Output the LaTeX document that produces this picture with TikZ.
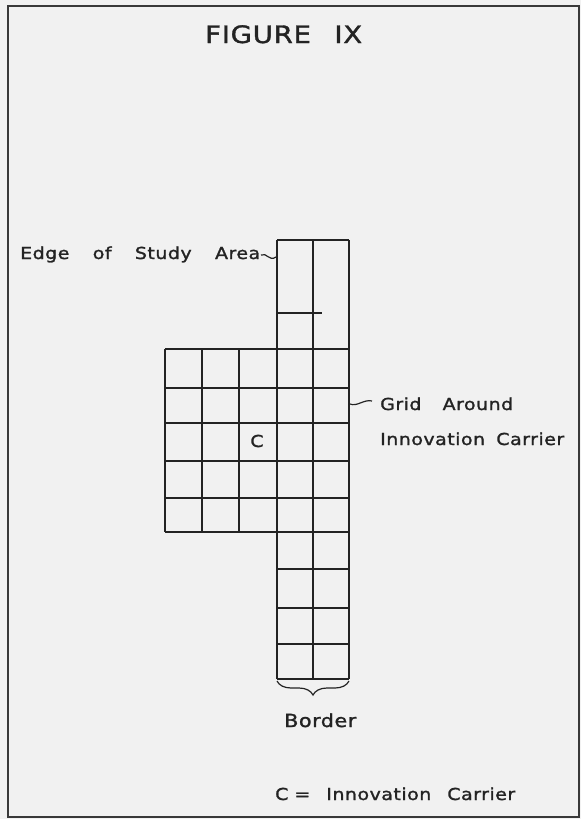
\documentclass[tikz,border=0pt]{standalone}
\usepackage{fontspec}
\usepackage{tikz}
\usetikzlibrary{decorations.pathreplacing}
\newfontfamily\lettering[LetterSpace=3,FakeStretch=1.15,FakeBold=1.5]{DejaVu Sans}
\definecolor{paper}{RGB}{241,241,241}
\definecolor{ink}{RGB}{35,35,35}
\newcommand{\spread}[2]{\makebox[#1][s]{#2}}

\begin{document}
\begin{tikzpicture}[x=1pt,y=-1pt,
  lbl/.style={inner sep=0pt,text=ink,font=\lettering\fontsize{16.5}{18}\selectfont},
  gridline/.style={draw=ink,line width=1.5pt},
  leader/.style={draw=ink,line width=1.2pt},
  frame/.style={draw=ink!90,line width=2pt}]
\useasboundingbox[fill=paper] (0,0) rectangle (581,819);
\draw[frame] (8,6) rectangle (579,817);
% study area strip and grid around the carrier
\foreach \x in {277,313,349} \draw[gridline] (\x,240) -- (\x,679);
\foreach \x in {165,202,239} \draw[gridline] (\x,349) -- (\x,532);
\foreach \y in {349,388,423,461,498,532} \draw[gridline] (165,\y) -- (349,\y);
\foreach \y in {240,569,608,644,679} \draw[gridline] (277,\y) -- (349,\y);
\draw[gridline] (277,313) -- (322,313);
\coordinate (bl) at (277,681);
\coordinate (br) at (349,681);
\coordinate (ea) at (261,255);
\coordinate (eb) at (276,257);
\coordinate (ga) at (350,404);
\coordinate (gb) at (372,401);
% labels
\node[lbl,anchor=base west,font=\lettering\fontsize{24}{26}\selectfont] (title) at (205,43) {\spread{157pt}{FIGURE IX}};
\node[lbl,anchor=base west] (edge) at (20,259) {\spread{240pt}{Edge of Study Area}};
\node[lbl,anchor=base west] (grid) at (380,410) {\spread{133pt}{Grid Around}};
\node[lbl,anchor=base west] (carrier) at (380,445) {\spread{184pt}{Innovation Carrier}};
\node[lbl] (c) at (257,441) {C};
\node[lbl,anchor=base west,font=\lettering\fontsize{18}{20}\selectfont] (border) at (284,727) {\spread{74pt}{Border}};
\node[lbl,anchor=base west] (key) at (275,800) {\spread{240pt}{C\kern6pt= Innovation Carrier}};
\draw[leader] (ea) .. controls (267,252) and (269,262) .. (eb);
\draw[leader] (ga) .. controls (357,407) and (364,399) .. (gb);
\draw[leader,decorate,decoration={brace,amplitude=14pt,mirror}] (bl) -- (br);
\end{tikzpicture}
\end{document}
